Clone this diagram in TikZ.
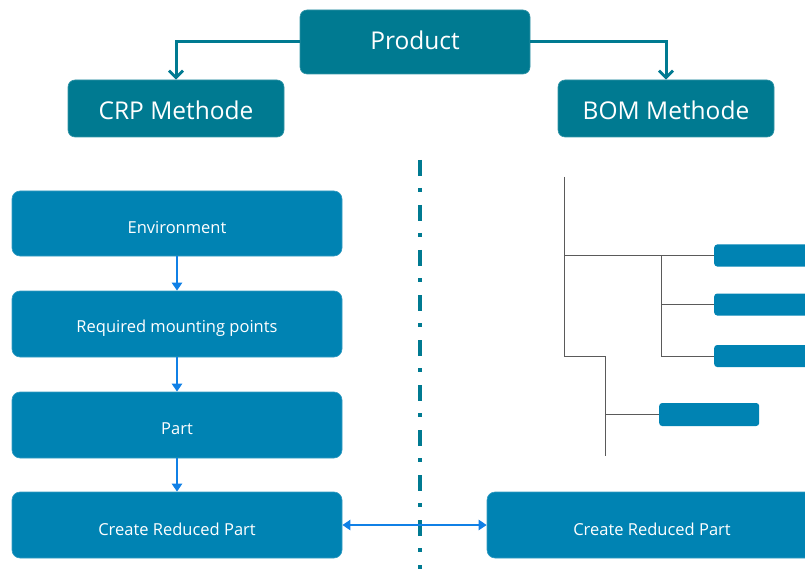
\documentclass[tikz,border=0pt]{standalone}
\usepackage{fontspec}
\setmainfont{Open Sans}
\usetikzlibrary{arrows.meta}
\definecolor{teal}{RGB}{0,122,145}
\definecolor{boxblue}{RGB}{0,131,179}
\definecolor{arrblue}{RGB}{16,128,230}
\definecolor{treegray}{RGB}{90,90,90}
\tikzset{
  topbox/.style={draw=teal!80!white, line width=0.6pt, fill=teal, rounded corners=7pt, inner sep=0pt},
  flowbox/.style={draw=boxblue!80!white, line width=0.6pt, fill=boxblue, rounded corners=8pt, inner sep=0pt},
  toplbl/.style={text=white, font=\fontsize{24.5}{28}\selectfont},
  lbl/.style={text=white, font=\fontsize{16.5}{19}\selectfont},
  leafbox/.style={fill=boxblue, rounded corners=3pt, inner sep=0pt},
  toparrow/.style={draw=teal, line width=3pt, -{Straight Barb[length=7pt,width=14pt,line width=2.8pt]}},
  flowarrow/.style={draw=arrblue, line width=2.6pt, -{Triangle[length=8pt,width=10pt]}},
  treeline/.style={draw=treegray, line width=1pt},
}
\begin{document}
\begin{tikzpicture}[x=1pt,y=-1pt]
\useasboundingbox (0,0) rectangle (805,569);
\begin{scope}
\clip (0,0) rectangle (805,569);
% top
\node[topbox, minimum width=230pt, minimum height=64pt] (prod) at (415,42) {};
\node[toplbl] (prodt) at (415,40) {Product};
\node[topbox, minimum width=216pt, minimum height=57pt] (crp) at (176,108.5) {};
\node[toplbl] (crpt) at (176,110) {CRP Methode};
\node[topbox, minimum width=216pt, minimum height=57pt] (bom) at (666,108.5) {};
\node[toplbl] (bomt) at (666,110) {BOM Methode};
\draw[toparrow] (prod.west) -| (crp.north);
\draw[toparrow] (prod.east) -| (bom.north);
% separator
\coordinate (sepT) at (420,160);
\coordinate (sepB) at (420,569);
\draw[teal, line width=3.5pt, dash pattern=on 16pt off 12pt on 4pt off 13pt] (sepT) -- (sepB);
% flow
\node[flowbox, minimum width=330pt, minimum height=65pt] (env) at (177,223.5) {};
\node[lbl] (envt) at (177,228) {Environment};
\node[flowbox, minimum width=330pt, minimum height=66pt] (req) at (177,324) {};
\node[lbl] (reqt) at (177,328) {Required mounting points};
\node[flowbox, minimum width=330pt, minimum height=66pt] (part) at (177,425) {};
\node[lbl] (partt) at (177,429) {Part};
\node[flowbox, minimum width=330pt, minimum height=66pt] (crl) at (177,525) {};
\node[lbl] (crlt) at (177,529) {Create Reduced Part};
\node[flowbox, minimum width=330pt, minimum height=66pt] (crr) at (652,525) {};
\node[lbl] (crrt) at (652,529) {Create Reduced Part};
\draw[flowarrow] (env) -- (req);
\draw[flowarrow] (req) -- (part);
\draw[flowarrow] (part) -- (crl);
\draw[draw=arrblue, line width=2.6pt, {Triangle[length=8pt,width=10pt]}-{Triangle[length=8pt,width=10pt]}] (crl) -- (crr);
% tree
\node[leafbox, minimum width=120pt, minimum height=22pt, anchor=west] (l1) at (714,255.5) {};
\node[leafbox, minimum width=120pt, minimum height=22pt, anchor=west] (l2) at (714,304.5) {};
\node[leafbox, minimum width=120pt, minimum height=22pt, anchor=west] (l3) at (714,356) {};
\node[leafbox, minimum width=100pt, minimum height=23pt, anchor=west] (l4) at (659,414.5) {};
\coordinate (t0) at (564,177);
\coordinate (t1) at (564,356);
\coordinate (tb) at (661,255.5);
\coordinate (tc) at (605.5,356);
\coordinate (td) at (605.5,456);
\draw[treeline] (t0) -- (t1) -- (tc) -- (td);
\draw[treeline] (564,255.5) -- (l1.west);
\draw[treeline] (tb) |- (l3.west);
\draw[treeline] (661,304.5) -- (l2.west);
\draw[treeline] (605.5,414.5) -- (l4.west);
\end{scope}
\end{tikzpicture}
\end{document}
